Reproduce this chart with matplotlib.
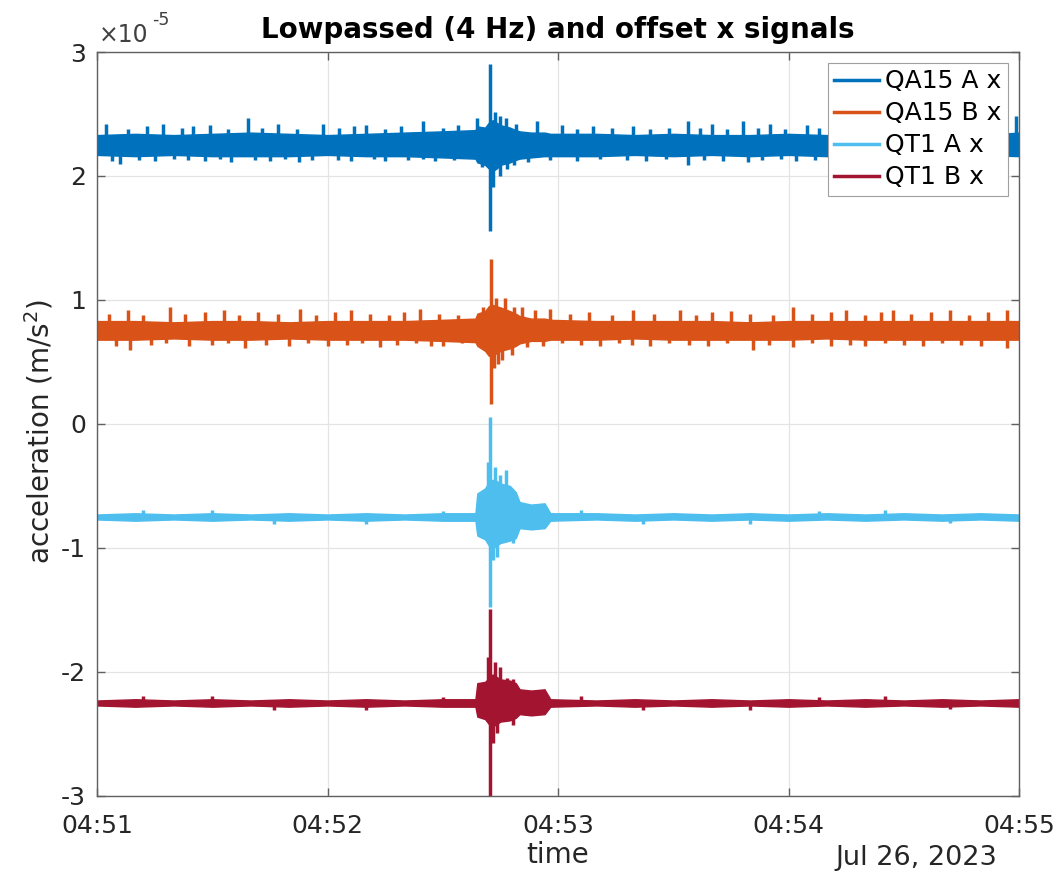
#=========================================IMPORTS========================================
import numpy as np
import matplotlib.pyplot as plt
import matplotlib.dates as mdates
from matplotlib.ticker import FuncFormatter
from matplotlib.lines import Line2D

plt.rcParams['font.family'] = ['DejaVu Sans']
plt.rcParams['axes.unicode_minus'] = False

#===========================================DATA=======================================
# all amplitudes in units of 1e-5 m/s^2, times in seconds after 04:51:00
names = ['QA15 A x', 'QA15 B x', 'QT1 A x', 'QT1 B x']
colors = ['#0072BD', '#D95319', '#4DBEEE', '#A2142F']
offsets = [2.25, 0.75, -0.75, -2.25]
ytick_vals = [-3, -2, -1, 0, 1, 2, 3]

# envelope knots (upper / lower edge of the dense noise band)
knot_t = [0, 10, 20, 30, 40, 50, 60, 70, 80, 90, 98.5, 99, 101, 102, 103, 104, 105,
          107.5, 109, 110, 113, 116.5, 118, 130, 140, 150, 160, 170, 180, 190, 200,
          210, 220, 230, 240]

qa15a_up = [2.33, 2.34, 2.33, 2.34, 2.35, 2.34, 2.33, 2.34, 2.35, 2.36, 2.37, 2.40, 2.39,
            2.43, 2.45, 2.43, 2.41, 2.39, 2.37, 2.36, 2.35, 2.35, 2.34, 2.34, 2.33, 2.34,
            2.33, 2.33, 2.34, 2.33, 2.33, 2.34, 2.33, 2.33, 2.35]
qa15a_lo = [2.17, 2.16, 2.17, 2.16, 2.16, 2.16, 2.17, 2.16, 2.16, 2.15, 2.14, 2.11, 2.09,
            2.06, 2.04, 2.06, 2.09, 2.11, 2.13, 2.14, 2.15, 2.16, 2.16, 2.16, 2.17, 2.16,
            2.17, 2.16, 2.17, 2.16, 2.17, 2.16, 2.17, 2.17, 2.16]

qa15b_up = [0.83, 0.83, 0.82, 0.83, 0.83, 0.82, 0.83, 0.83, 0.83, 0.84, 0.85, 0.89, 0.91,
            0.95, 0.96, 0.95, 0.94, 0.91, 0.89, 0.87, 0.85, 0.85, 0.84, 0.83, 0.83, 0.83,
            0.83, 0.82, 0.83, 0.83, 0.83, 0.83, 0.83, 0.83, 0.83]
qa15b_lo = [0.68, 0.68, 0.69, 0.68, 0.68, 0.69, 0.68, 0.68, 0.68, 0.67, 0.66, 0.63, 0.59,
            0.55, 0.56, 0.57, 0.59, 0.61, 0.63, 0.65, 0.67, 0.67, 0.68, 0.68, 0.69, 0.68,
            0.68, 0.68, 0.68, 0.69, 0.68, 0.68, 0.68, 0.68, 0.68]

qt1a_up = [-0.73, -0.72, -0.73, -0.72, -0.73, -0.72, -0.73, -0.72, -0.73, -0.72, -0.72,
           -0.56, -0.52, -0.47, -0.45, -0.46, -0.48, -0.50, -0.55, -0.63, -0.65, -0.64,
           -0.72, -0.72, -0.73, -0.72, -0.73, -0.72, -0.73, -0.72, -0.73, -0.72, -0.73,
           -0.72, -0.73]
qt1a_lo = [-0.77, -0.78, -0.77, -0.78, -0.77, -0.78, -0.77, -0.78, -0.77, -0.78, -0.78,
           -0.90, -0.93, -0.98, -1.00, -0.98, -0.96, -0.94, -0.92, -0.84, -0.85, -0.84,
           -0.78, -0.77, -0.78, -0.77, -0.78, -0.77, -0.78, -0.77, -0.78, -0.77, -0.78,
           -0.77, -0.78]

qt1b_up = [-2.23, -2.22, -2.23, -2.22, -2.23, -2.22, -2.23, -2.22, -2.23, -2.22, -2.22,
           -2.09, -2.08, -2.05, -2.02, -2.04, -2.06, -2.07, -2.09, -2.14, -2.15, -2.14,
           -2.22, -2.23, -2.22, -2.23, -2.22, -2.23, -2.22, -2.23, -2.22, -2.23, -2.22,
           -2.23, -2.22]
qt1b_lo = [-2.27, -2.28, -2.27, -2.28, -2.27, -2.28, -2.27, -2.28, -2.27, -2.28, -2.28,
           -2.36, -2.38, -2.42, -2.44, -2.42, -2.40, -2.39, -2.37, -2.34, -2.35, -2.34,
           -2.28, -2.27, -2.28, -2.27, -2.28, -2.27, -2.28, -2.27, -2.28, -2.27, -2.28,
           -2.27, -2.28]

# individual spikes sticking out of the band (time, peak value)
qa15a_spk_t = [2.3, 8, 13, 17.2, 22, 25, 29.4, 34, 39.3, 43, 47.1, 52, 58.8, 63, 67, 70,
               75, 79, 84.9, 90, 94, 98.9, 102.3, 103.6, 104.9, 106.5, 109, 114.5, 121,
               125, 129.1, 134, 139.5, 144, 149, 153.8, 157, 160, 164, 168.2, 172, 175.2,
               179, 184.8, 188, 239.2,
               4, 6, 11, 15, 20, 23.7, 28, 32, 35, 41, 45, 49, 52.6, 56, 62.7, 66, 72, 75,
               81, 84.9, 88, 93, 100.2, 102.4, 103.1, 104.9, 106.7, 108.5, 112.2, 118,
               125, 131, 138, 143, 148, 153.8, 158, 163, 169.5, 173, 178, 182, 187, 239.6]
qa15a_spk_v = [2.42, 2.38, 2.40, 2.42, 2.39, 2.40, 2.41, 2.38, 2.47, 2.39, 2.42, 2.38, 2.42,
               2.39, 2.40, 2.41, 2.38, 2.40, 2.44, 2.39, 2.41, 2.47, 2.90, 2.52, 2.48, 2.47,
               2.42, 2.44, 2.41, 2.38, 2.40, 2.39, 2.40, 2.38, 2.39, 2.44, 2.39, 2.42, 2.38,
               2.44, 2.39, 2.42, 2.38, 2.41, 2.39, 2.48,
               2.12, 2.10, 2.13, 2.12, 2.14, 2.13, 2.12, 2.14, 2.11, 2.13, 2.12, 2.14, 2.11,
               2.13, 2.13, 2.12, 2.14, 2.12, 2.13, 2.14, 2.12, 2.13, 2.07, 1.56, 1.91, 2.00,
               2.06, 2.09, 2.11, 2.13, 2.12, 2.14, 2.13, 2.12, 2.14, 2.09, 2.13, 2.12, 2.11,
               2.13, 2.14, 2.12, 2.13, 2.17]

qa15b_spk_t = [3, 8, 12, 19, 23, 28, 33, 37, 42, 47, 52.8, 57, 62, 66, 71, 76, 80, 84, 89,
               94, 100.5, 102.5, 103.8, 106.2, 108.5, 110.5, 114, 118, 123, 128, 134,
               139.5, 145, 151.8, 156, 160, 165, 170, 176, 181.2, 186, 191, 195, 200, 204,
               207.2, 212, 217, 222, 227, 232, 236.9,
               5, 8.6, 14, 18, 24, 30, 34, 38.5, 44, 50, 55, 60, 65, 69, 73.7, 78, 83, 87,
               90, 95, 102.6, 103.3, 104.5, 105.5, 108, 112, 116, 121, 126, 131, 136,
               139.3, 144, 149, 154, 159, 164, 170.8, 175, 181.2, 186, 191, 196, 200, 205,
               210, 215, 220, 225, 230, 236.9]
qa15b_spk_v = [0.89, 0.92, 0.88, 0.94, 0.89, 0.90, 0.92, 0.88, 0.90, 0.89, 0.93, 0.88, 0.90,
               0.92, 0.89, 0.88, 0.90, 0.93, 0.89, 0.88, 0.94, 1.33, 1.02, 1.02, 0.94, 0.94,
               0.92, 0.93, 0.89, 0.90, 0.88, 0.92, 0.89, 0.92, 0.88, 0.90, 0.91, 0.89, 0.88,
               0.94, 0.89, 0.90, 0.92, 0.88, 0.90, 0.92, 0.89, 0.90, 0.92, 0.88, 0.90, 0.92,
               0.63, 0.60, 0.64, 0.65, 0.63, 0.64, 0.65, 0.61, 0.64, 0.63, 0.65, 0.63, 0.64,
               0.65, 0.62, 0.64, 0.65, 0.63, 0.63, 0.65, 0.16, 0.45, 0.48, 0.52, 0.56, 0.62,
               0.63, 0.65, 0.64, 0.63, 0.65, 0.64, 0.63, 0.65, 0.64, 0.63, 0.65, 0.60, 0.64,
               0.62, 0.65, 0.63, 0.64, 0.63, 0.65, 0.64, 0.63, 0.65, 0.64, 0.63, 0.61]

qt1a_spk_t = [101.9, 102.3, 103.6, 104.9, 106.5, 102.4, 103.1, 104.1, 108.3,
              12, 30, 46, 70, 90, 126, 142, 170, 188, 205, 222]
qt1a_spk_v = [-0.31, 0.06, -0.35, -0.41, -0.37, -1.48, -1.10, -1.07, -0.96,
              -0.69, -0.69, -0.81, -0.81, -0.70, -0.69, -0.81, -0.81, -0.70, -0.69, -0.80]

qt1b_spk_t = [101.9, 102.3, 103.6, 104.9, 106.7, 108.3, 102.4, 103.1, 104.1, 108.3,
              12, 30, 46, 70, 90, 126, 142, 170, 188, 205, 222]
qt1b_spk_v = [-1.88, -1.49, -1.92, -1.96, -2.05, -2.06, -3.00, -2.57, -2.49, -2.43,
              -2.19, -2.19, -2.31, -2.31, -2.20, -2.19, -2.31, -2.31, -2.20, -2.19, -2.30]

#======================================HELPERS===================================
t0 = np.datetime64('2023-07-26T04:51:00')
S = 1e-5


def to_time(sec):
    ms = np.round(np.asarray(sec, dtype=float) * 1000).astype('int64')
    return t0 + ms.astype('timedelta64[ms]')


#==================================PLOTTING==================================
fig = plt.figure(figsize=(10.64, 8.77), dpi=100)
ax = fig.add_axes([0.0912, 0.0924, 0.8665, 0.8483])

bands = [(qa15a_up, qa15a_lo, qa15a_spk_t, qa15a_spk_v),
         (qa15b_up, qa15b_lo, qa15b_spk_t, qa15b_spk_v),
         (qt1a_up, qt1a_lo, qt1a_spk_t, qt1a_spk_v),
         (qt1b_up, qt1b_lo, qt1b_spk_t, qt1b_spk_v)]

tk = to_time(knot_t)
for (up, lo, st, sv), off, c in zip(bands, offsets, colors):
    ax.fill_between(tk, np.array(lo) * S, np.array(up) * S, color=c, ec=c, lw=1.0, zorder=2)
    ax.vlines(to_time(st), off * S, np.array(sv) * S, color=c, lw=2.5, zorder=2)

ax.set_xlim(to_time(0), to_time(240))
ax.set_ylim(-3e-5, 3e-5)
ax.set_yticks(np.array(ytick_vals) * S)
ax.yaxis.set_major_formatter(FuncFormatter(lambda v, p: '%d' % round(v / S)))
# MATLAB style exponent above the y axis
fig.text(99 / 1064, 1 - 42 / 877, '×10', fontsize=17, color='#404040', va='baseline')
fig.text(152 / 1064, 1 - 25 / 877, '-5', fontsize=12.5, color='#404040', va='baseline')

ax.xaxis.set_major_locator(mdates.MinuteLocator())
ax.xaxis.set_major_formatter(mdates.DateFormatter('%H:%M'))

ax.grid(True, color='#e4e4e4', lw=0.9, zorder=0)
ax.set_axisbelow(True)
for sp in ax.spines.values():
    sp.set_color('#606060')
    sp.set_linewidth(1.0)
ax.tick_params(direction='in', length=6, width=1, color='#606060', labelsize=18,
               labelcolor='#262626', top=True, right=True)
ax.tick_params(axis='x', pad=13)
ax.tick_params(axis='y', pad=8)

ax.set_title('Lowpassed (4 Hz) and offset x signals', fontsize=20, fontweight='bold', pad=10)
ax.set_ylabel('acceleration (m/s$^2$)', fontsize=20, color='#262626')
ax.yaxis.set_label_coords(-0.045, 0.49)
ax.set_xlabel('time', fontsize=20, color='#262626', labelpad=2)
fig.text(997 / 1064, 1 - 858 / 877, 'Jul 26, 2023', fontsize=19.5, color='#262626',
         ha='right', va='center')

handles = [Line2D([], [], color=c, lw=2.5) for c in colors]
leg = ax.legend(handles, names, loc='upper right', bbox_to_anchor=(1008 / 1064, 1 - 63 / 877),
                bbox_transform=fig.transFigure, borderaxespad=0, fontsize=18, fancybox=False,
                framealpha=1, edgecolor='#a0a0a0', handlelength=1.8, handletextpad=0.25,
                labelspacing=0.32, borderpad=0.25)
leg.get_frame().set_linewidth(0.8)
leg.set_zorder(5)

plt.savefig('out.png', dpi=100)
